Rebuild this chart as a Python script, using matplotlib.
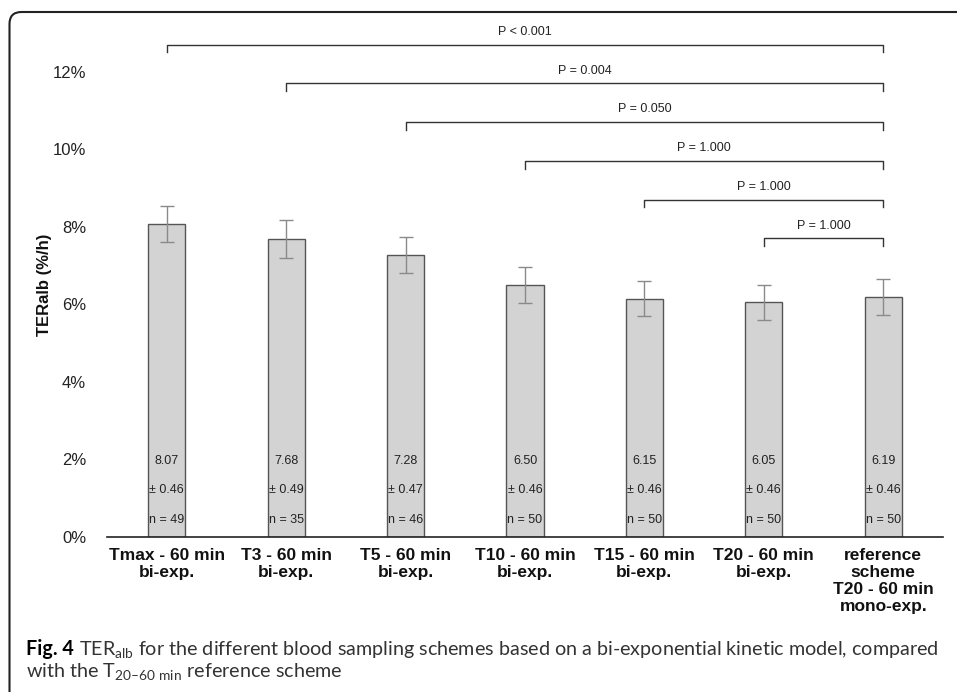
import matplotlib
matplotlib.use("Agg")
import matplotlib.pyplot as plt
from matplotlib.patches import FancyBboxPatch
import numpy as np

# ---- data ----
categories = ["Tmax - 60 min\nbi-exp.", "T3 - 60 min\nbi-exp.", "T5 - 60 min\nbi-exp.",
              "T10 - 60 min\nbi-exp.", "T15 - 60 min\nbi-exp.", "T20 - 60 min\nbi-exp.",
              "reference\nscheme\nT20 - 60 min\nmono-exp."]
means = [8.07, 7.68, 7.28, 6.50, 6.15, 6.05, 6.19]
sds = [0.46, 0.49, 0.47, 0.46, 0.46, 0.46, 0.46]
ns = [49, 35, 46, 50, 50, 50, 50]
p_labels = ["P < 0.001", "P = 0.004", "P = 0.050", "P = 1.000", "P = 1.000", "P = 1.000"]
compare_from = [0, 1, 2, 3, 4, 5]
compare_to = 6
yticks = [0, 2, 4, 6, 8, 10, 12]

plt.rcParams['font.family'] = ['Liberation Sans', 'DejaVu Sans']
plt.rcParams['mathtext.fontset'] = 'custom'
plt.rcParams['mathtext.rm'] = 'Lato'
plt.rcParams['mathtext.it'] = 'Lato:italic'
plt.rcParams['mathtext.bf'] = 'Lato:bold'

W, H = 957, 692
fig = plt.figure(figsize=(W / 100, H / 100), dpi=100)
ax = fig.add_axes([107 / W, 1 - 537 / H, (943 - 107) / W, (537 - 33) / H])

x = np.arange(len(categories))
ax.bar(x, means, width=0.31, color="#d2d3d2", edgecolor="#555555", linewidth=1.0, zorder=2)
ax.errorbar(x, means, yerr=sds, fmt="none", ecolor="#8a8a8a", elinewidth=1.0,
            capsize=5, capthick=1.0, zorder=3)

for xi, m, s, n in zip(x, means, sds, ns):
    ax.text(xi, 1.95, f"{m:.2f}", ha="center", va="center", fontsize=9, color="#222222")
    ax.text(xi, 1.20, f"\u00b1 {s:.2f}", ha="center", va="center", fontsize=9, color="#222222")
    ax.text(xi, 0.45, f"n = {n}", ha="center", va="center", fontsize=9, color="#222222")

# significance brackets
for i, (a, lab) in enumerate(zip(compare_from, p_labels)):
    level = 12.7 - i * 1.0
    drop = 0.2
    ax.plot([x[a], x[a], x[compare_to], x[compare_to]],
            [level - drop, level, level, level - drop],
            color="#333333", linewidth=1.0, clip_on=False, zorder=4)
    ax.text((x[a] + x[compare_to]) / 2, level + 0.33, lab, ha="center", va="center",
            fontsize=9, color="#222222")

ax.set_xlim(-0.5, 6.5)
ax.set_ylim(0, 13)
ax.set_yticks(yticks)
ax.set_yticklabels([f"{t}%" for t in yticks], fontsize=12, color="#222222")
ax.set_xticks(x)
ax.set_xticklabels(categories, fontsize=12.5, fontweight="bold", color="#111111",
                   linespacing=1.15)
ax.tick_params(axis="y", length=0, pad=15)
ax.tick_params(axis="x", length=0, pad=8)
for sp in ["top", "right", "left"]:
    ax.spines[sp].set_visible(False)
ax.spines["bottom"].set_color("#222222")
ax.spines["bottom"].set_linewidth(1.2)

fig.text(45 / W, 1 - 285 / H, "TERalb (%/h)", rotation=90, ha="center", va="center",
         fontsize=12, fontweight="bold", color="#111111")

# frame
frame = FancyBboxPatch((0.095, -1.0), 20.0, 6.80 + 1.0,
                       boxstyle="round,pad=0,rounding_size=0.12",
                       transform=fig.dpi_scale_trans, facecolor="none",
                       edgecolor="#222222", linewidth=1.5)
fig.add_artist(frame)

# caption
cap_fs = 14.2
fig_lbl = fig.text(26 / W, 1 - 650 / H, "Fig. 4", ha="left", va="baseline",
                   fontsize=cap_fs, fontweight="bold", color="#000000", family="Lato")
fig.canvas.draw()
bb = fig_lbl.get_window_extent(renderer=fig.canvas.get_renderer())
fig.text((bb.x1 + 5) / W, 1 - 650 / H,
         r"TER$_{\mathrm{alb}}$ for the different blood sampling schemes based on a bi-exponential kinetic model, compared",
         ha="left", va="baseline", fontsize=cap_fs, color="#333333", family="Lato")
fig.text(26 / W, 1 - 672 / H,
         "with the T$_{\\mathrm{20\u201360\\ min}}$ reference scheme",
         ha="left", va="baseline", fontsize=cap_fs, color="#333333", family="Lato")
# shift baselines slightly so text centers match previous layout
for t in fig.texts[-3:]:
    x0, y0 = t.get_position()
    t.set_position((x0, y0 - 5 / H))

fig.savefig("out.png", dpi=100)
